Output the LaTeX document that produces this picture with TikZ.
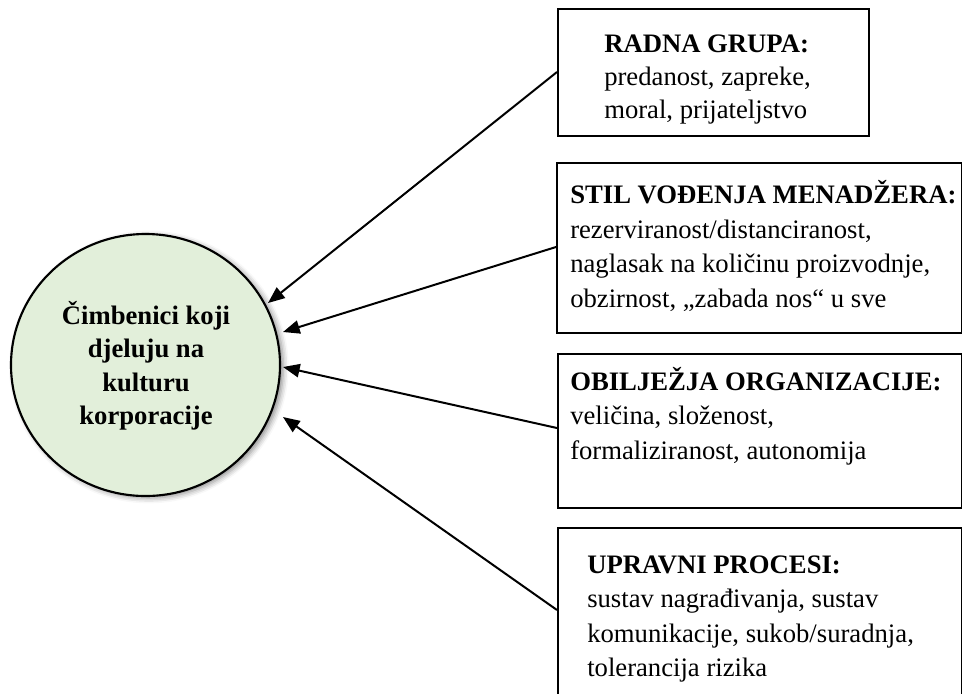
\documentclass[tikz,border=0pt]{standalone}
\usepackage{fontspec}
\setmainfont{Liberation Serif}
\newfontfamily\serf{Liberation Serif}
\usetikzlibrary{arrows.meta,shadows.blur,shapes.geometric}
\definecolor{circfill}{HTML}{E2EFDA}
\begin{document}
\begin{tikzpicture}[x=0.75pt,y=-0.75pt,
  boxstyle/.style={draw=black,line width=1.6pt,fill=white,anchor=north west,inner sep=0pt},
  txt/.style={anchor=base west,inner sep=0pt,font=\serf\fontsize{20}{24}\selectfont},
  head/.style={txt,font=\serf\bfseries\fontsize{20}{24}\selectfont},
  ctxt/.style={anchor=base,inner sep=0pt,font=\serf\bfseries\fontsize{20}{24}\selectfont},
  conn/.style={line width=1.5pt,-{Triangle[length=12.5pt,width=10pt]}}]
\useasboundingbox (0,0) rectangle (962,693);
% circle
\node[ellipse,draw=black,line width=1.6pt,fill=circfill,minimum width=201.75pt,minimum height=196.5pt,inner sep=0pt,
  blur shadow={shadow xshift=2.5pt,shadow yshift=-1.5pt,shadow blur radius=4pt,shadow opacity=45}] (c) at (145.5,365) {};
\node[ctxt] (c1) at (146,324) {Čimbenici koji};
\node[ctxt] (c2) at (146,357.5) {djeluju na};
\node[ctxt] (c3) at (146,391) {kulturu};
\node[ctxt] (c4) at (146,424.5) {korporacije};
% boxes
\node[boxstyle,minimum width=233.25pt,minimum height=95.25pt] (b1) at (557,8) {};
\node[boxstyle,minimum width=303.5pt,minimum height=127.5pt] (b2) at (556,162) {};
\node[boxstyle,minimum width=302.75pt,minimum height=115.5pt] (b3) at (557,353) {};
\node[boxstyle,minimum width=302.75pt,minimum height=135pt] (b4) at (557,527) {};
% box 1 text
\node[head] (t11) at (604,52) {RADNA GRUPA:};
\node[txt] (t12) at (604,85) {predanost, zapreke,};
\node[txt] (t13) at (604,118) {moral, prijateljstvo};
% box 2 text
\node[head] (t21) at (570,203) {STIL VOĐENJA MENADŽERA:};
\node[txt] (t22) at (570,238) {rezerviranost/distanciranost,};
\node[txt] (t23) at (570,272.5) {naglasak na količinu proizvodnje,};
\node[txt] (t24) at (570,307) {obzirnost, „zabada nos“ u sve};
% box 3 text
\node[head] (t31) at (570,390) {OBILJEŽJA ORGANIZACIJE:};
\node[txt] (t32) at (570,424.5) {veličina, složenost,};
\node[txt] (t33) at (570,459) {formaliziranost, autonomija};
% box 4 text
\node[head] (t41) at (587,573) {UPRAVNI PROCESI:};
\node[txt] (t42) at (587,607.5) {sustav nagrađivanja, sustav};
\node[txt] (t43) at (587,642) {komunikacije, sukob/suradnja,};
\node[txt] (t44) at (587,676.5) {tolerancija rizika};
% connector endpoints
\coordinate (s1) at (557,72);
\coordinate (s2) at (556,247);
\coordinate (s3) at (557,428);
\coordinate (s4) at (557,610);
\coordinate (e1) at (268,303);
\coordinate (e2) at (283,332);
\coordinate (e3) at (283,367);
\coordinate (e4) at (283,417);
\draw[conn] (s1) -- (e1);
\draw[conn] (s2) -- (e2);
\draw[conn] (s3) -- (e3);
\draw[conn] (s4) -- (e4);
\end{tikzpicture}
\end{document}
